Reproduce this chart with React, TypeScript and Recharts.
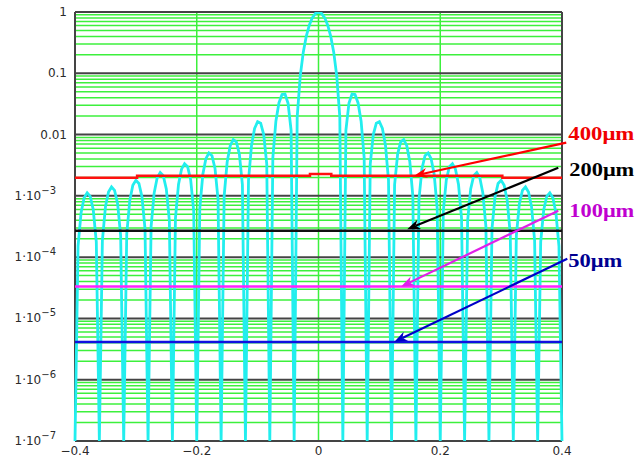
import React from 'react';
import { LineChart, Line, XAxis, YAxis, CartesianGrid, ReferenceLine, ReferenceDot } from 'recharts';

// sample positions of the diffraction curve
const xSamples = [
  -0.4, -0.395, -0.39, -0.385, -0.38, -0.375, -0.37, -0.365,
  -0.36, -0.355, -0.35, -0.345, -0.34, -0.335, -0.33, -0.325,
  -0.32, -0.315, -0.31, -0.305, -0.3, -0.295, -0.29, -0.285,
  -0.28, -0.275, -0.27, -0.265, -0.26, -0.255, -0.25, -0.245,
  -0.24, -0.235, -0.23, -0.225, -0.22, -0.215, -0.21, -0.205,
  -0.2, -0.195, -0.19, -0.185, -0.18, -0.175, -0.17, -0.165,
  -0.16, -0.155, -0.15, -0.145, -0.14, -0.135, -0.13, -0.125,
  -0.12, -0.115, -0.11, -0.105, -0.1, -0.095, -0.09, -0.085,
  -0.08, -0.075, -0.07, -0.065, -0.06, -0.055, -0.05, -0.045,
  -0.04, -0.035, -0.03, -0.025, -0.02, -0.015, -0.01, -0.005,
  0,
  0.005, 0.01, 0.015, 0.02, 0.025, 0.03, 0.035, 0.04,
  0.045, 0.05, 0.055, 0.06, 0.065, 0.07, 0.075, 0.08,
  0.085, 0.09, 0.095, 0.1, 0.105, 0.11, 0.115, 0.12,
  0.125, 0.13, 0.135, 0.14, 0.145, 0.15, 0.155, 0.16,
  0.165, 0.17, 0.175, 0.18, 0.185, 0.19, 0.195, 0.2,
  0.205, 0.21, 0.215, 0.22, 0.225, 0.23, 0.235, 0.24,
  0.245, 0.25, 0.255, 0.26, 0.265, 0.27, 0.275, 0.28,
  0.285, 0.29, 0.295, 0.3, 0.305, 0.31, 0.315, 0.32,
  0.325, 0.33, 0.335, 0.34, 0.345, 0.35, 0.355, 0.36,
  0.365, 0.37, 0.375, 0.38, 0.385, 0.39, 0.395, 0.4,
];

// relative intensity (zeros sit on the 1e-7 floor)
const intensity = [
  1e-7, 0.000152, 0.000533, 0.000934, 0.00112, 0.000984, 0.000592, 0.000178,
  1e-7, 0.000188, 0.000662, 0.00116, 0.0014, 0.00123, 0.000744, 0.000225,
  1e-7, 0.000239, 0.000843, 0.00149, 0.0018, 0.00159, 0.000964, 0.000292,
  1e-7, 0.000314, 0.00111, 0.00197, 0.0024, 0.00213, 0.0013, 0.000395,
  1e-7, 0.00043, 0.00153, 0.00273, 0.00335, 0.00299, 0.00184, 0.000565,
  1e-7, 0.000624, 0.00225, 0.00404, 0.005, 0.00452, 0.00281, 0.000872,
  1e-7, 0.000988, 0.0036, 0.00658, 0.00827, 0.00759, 0.0048, 0.00152,
  1e-7, 0.0018, 0.0067, 0.0126, 0.0162, 0.0153, 0.01, 0.00329,
  1e-7, 0.00422, 0.0165, 0.0328, 0.045, 0.0458, 0.0324, 0.0117,
  1e-7, 0.0194, 0.0901, 0.221, 0.405, 0.615, 0.811, 0.95,
  1,
  0.95, 0.811, 0.615, 0.405, 0.221, 0.0901, 0.0194, 1e-7,
  0.0117, 0.0324, 0.0458, 0.045, 0.0328, 0.0165, 0.00422, 1e-7,
  0.00329, 0.01, 0.0153, 0.0162, 0.0126, 0.0067, 0.0018, 1e-7,
  0.00152, 0.0048, 0.00759, 0.00827, 0.00658, 0.0036, 0.000988, 1e-7,
  0.000872, 0.00281, 0.00452, 0.005, 0.00404, 0.00225, 0.000624, 1e-7,
  0.000565, 0.00184, 0.00299, 0.00335, 0.00273, 0.00153, 0.00043, 1e-7,
  0.000395, 0.0013, 0.00213, 0.0024, 0.00197, 0.00111, 0.000314, 1e-7,
  0.000292, 0.000964, 0.00159, 0.0018, 0.00149, 0.000843, 0.000239, 1e-7,
  0.000225, 0.000744, 0.00123, 0.0014, 0.00116, 0.000662, 0.000188, 1e-7,
  0.000178, 0.000592, 0.000984, 0.00112, 0.000934, 0.000533, 0.000152, 1e-7,
];

// noise levels for each aperture
const level400X = [-0.4, -0.298, -0.014, 0.021, 0.302, 0.4];
const level400 = [1.98e-3, 2.13e-3, 2.27e-3, 2.13e-3, 1.98e-3, 1.98e-3];
const levelX = [-0.4, 0.4];
const level200 = [2.69e-4, 2.69e-4];
const level100 = [3.31e-5, 3.31e-5];
const level50 = [4.13e-6, 4.13e-6];

const xTicks = [-0.4, -0.2, 0, 0.2, 0.4];
const yTicks = [1e-7, 1e-6, 1e-5, 1e-4, 1e-3, 0.01, 0.1, 1];
const minorSteps = [2, 3, 4, 5, 6, 7, 8, 9];

// annotations: label, arrow start, arrow tip
const labelNames = ['400μm', '200μm', '100μm', '50μm'];
const labelColors = ['#f00000', '#000000', '#c000d0', '#000090'];
const arrowColors = ['#ff0000', '#000000', '#e020e8', '#0000c8'];
const labelX = [0.4103, 0.412, 0.412, 0.4103];
const labelY = [8.26e-3, 2.13e-3, 4.55e-4, 6.95e-5];
const arrowFromX = [0.407, 0.3939, 0.3939, 0.4087];
const arrowFromY = [7.38e-3, 2.88e-3, 5.71e-4, 9.38e-5];
const arrowToX = [0.1572, 0.1457, 0.1358, 0.1243];
const arrowToY = [2.13e-3, 2.85e-4, 3.31e-5, 4.13e-6];
const labelWidths = [66, 65, 65, 54];

const curveData = xSamples.map((x, i) => ({ x, y: intensity[i] }));
const toPoints = (xs: number[], ys: number[]) => xs.map((x, i) => ({ x, y: ys[i] }));

const minorGrid = yTicks.slice(0, -1).flatMap((d) => minorSteps.map((m) => m * d));

const tickFont = { fontFamily: 'DejaVu Sans, Verdana, sans-serif', fontSize: 12, fill: '#2a2a2a' };

const YTick = (props: any) => {
  const { x, y, payload } = props;
  const v = payload.value;
  const exp = Math.round(Math.log10(v));
  if (exp >= -2) {
    return (
      <text x={x} y={y} dy={4} textAnchor="end" {...tickFont}>
        {String(v)}
      </text>
    );
  }
  return (
    <text x={x - 11} y={y} dy={4} textAnchor="end" {...tickFont}>
      1·10
      <tspan dy={-6} fontSize={10}>
        {'−' + -exp}
      </tspan>
    </text>
  );
};

const XTick = (props: any) => {
  const { x, y, payload } = props;
  const v = payload.value;
  const txt = v < 0 ? '−' + Math.abs(v) : String(v);
  return (
    <text x={x} y={y} dy={6} textAnchor="middle" {...tickFont}>
      {txt}
    </text>
  );
};

const Arrow = (props: any) => {
  const { x1, y1, x2, y2, stroke } = props;
  const ang = Math.atan2(y2 - y1, x2 - x1);
  const len = 13;
  const half = 5;
  const bx = x2 - len * Math.cos(ang);
  const by = y2 - len * Math.sin(ang);
  const nx = -Math.sin(ang);
  const ny = Math.cos(ang);
  const notchX = x2 - len * 0.7 * Math.cos(ang);
  const notchY = y2 - len * 0.7 * Math.sin(ang);
  return (
    <g>
      <line x1={x1} y1={y1} x2={notchX} y2={notchY} stroke={stroke} strokeWidth={2.2} />
      <polygon
        points={`${x2},${y2} ${bx + nx * half},${by + ny * half} ${notchX},${notchY} ${bx - nx * half},${by - ny * half}`}
        fill={stroke}
      />
    </g>
  );
};

export default function App() {
  return (
    <div style={{ position: 'absolute', left: 0, top: 0, width: 641, height: 459, background: '#fff' }}>
      <LineChart width={641} height={459} margin={{ top: 12, right: 79, bottom: 0, left: 0 }}>
        <CartesianGrid
          horizontalValues={minorGrid}
          verticalValues={[-0.2, 0, 0.2]}
          stroke="#3cf03c"
          strokeWidth={1.5}
        />
        <CartesianGrid horizontalValues={yTicks} verticalValues={[-0.4, 0.4]} stroke="#444" strokeWidth={2} />
        <XAxis
          dataKey="x"
          type="number"
          domain={[-0.4, 0.4]}
          ticks={xTicks}
          interval={0}
          height={18}
          axisLine={false}
          tickLine={false}
          tick={<XTick />}
        />
        <YAxis
          type="number"
          scale="log"
          domain={[1e-7, 1]}
          ticks={yTicks}
          interval={0}
          width={75}
          axisLine={false}
          tickLine={false}
          allowDataOverflow
          tick={<YTick />}
        />
        <Line
          data={curveData}
          dataKey="y"
          type="linear"
          stroke="#22eeee"
          strokeWidth={2.8}
          dot={false}
          activeDot={false}
          isAnimationActive={false}
        />
        <Line
          data={toPoints(level400X, level400)}
          dataKey="y"
          type="stepAfter"
          stroke="#ff1010"
          strokeWidth={2.5}
          dot={false}
          activeDot={false}
          isAnimationActive={false}
        />
        <Line
          data={toPoints(levelX, level200)}
          dataKey="y"
          stroke="#111"
          strokeWidth={2.5}
          dot={false}
          activeDot={false}
          isAnimationActive={false}
        />
        <Line
          data={toPoints(levelX, level100)}
          dataKey="y"
          stroke="#ff22ff"
          strokeWidth={2.5}
          dot={false}
          activeDot={false}
          isAnimationActive={false}
        />
        <Line
          data={toPoints(levelX, level50)}
          dataKey="y"
          stroke="#1010e0"
          strokeWidth={2.5}
          dot={false}
          activeDot={false}
          isAnimationActive={false}
        />
        {labelNames.map((name, i) => (
          <ReferenceLine
            key={'a' + name}
            segment={[
              { x: arrowFromX[i], y: arrowFromY[i] },
              { x: arrowToX[i], y: arrowToY[i] },
            ]}
            ifOverflow="visible"
            stroke={arrowColors[i]}
            shape={Arrow}
            zIndex={800}
          />
        ))}
        {labelNames.map((name, i) => (
          <ReferenceDot
            key={'l' + name}
            x={labelX[i]}
            y={labelY[i]}
            r={0}
            ifOverflow="visible"
            zIndex={800}
            shape={(p: any) => (
              <text
                x={p.cx}
                y={p.cy}
                fill={labelColors[i]}
                fontFamily="Liberation Serif, Times New Roman, serif"
                fontWeight="bold"
                fontSize={18}
                textLength={labelWidths[i]}
                lengthAdjust="spacingAndGlyphs"
              >
                {name}
              </text>
            )}
          />
        ))}
      </LineChart>
    </div>
  );
}
